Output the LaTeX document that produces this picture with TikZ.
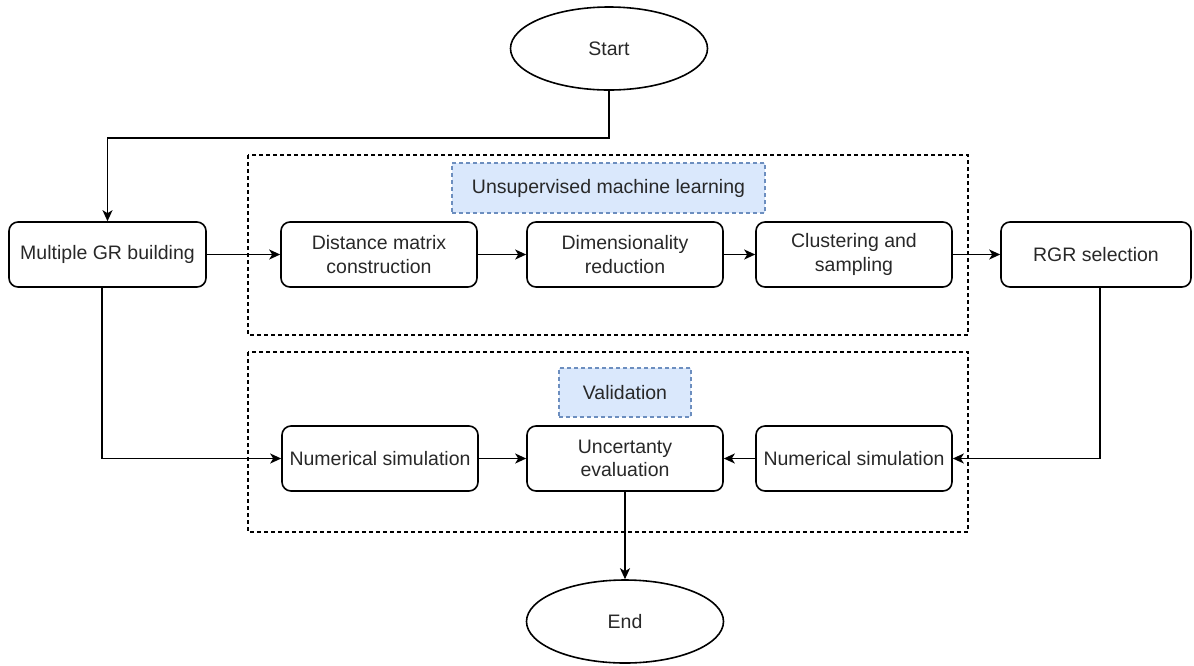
\documentclass[tikz,border=0pt]{standalone}
\usepackage{fontspec}
\setmainfont{Liberation Sans}
\usetikzlibrary{arrows.meta,shapes.geometric}
\definecolor{txt}{RGB}{40,40,40}
\definecolor{tagfill}{RGB}{218,232,252}
\definecolor{tagdraw}{RGB}{108,142,191}
\begin{document}
\begin{tikzpicture}[x=1pt,y=-1pt,
  every node/.style={text=txt, font=\fontsize{19.5}{23.5}\selectfont, align=center, inner sep=0pt},
  proc/.style={draw=black, line width=1.6pt, rounded corners=9pt, minimum width=196pt, minimum height=65pt},
  term/.style={draw=black, line width=1.6pt, ellipse, minimum width=197pt, minimum height=83pt},
  frame/.style={draw=black, line width=1.3pt, dash pattern=on 4pt off 3pt},
  tag/.style={draw=tagdraw, fill=tagfill, line width=1.3pt, dash pattern=on 4pt off 3pt},
  flow/.style={draw=black, line width=1.6pt, -{Stealth[length=11pt,width=10pt,inset=3pt]}}
]
\useasboundingbox (0,0) rectangle (1194,665);

% group frames
\draw[frame] (248,155) rectangle (968,335);
\draw[frame] (248,352) rectangle (968,532);
\node[tag, minimum width=313pt, minimum height=50pt] (tagml) at (608.5,188) {Unsupervised machine learning};
\node[tag, minimum width=132pt, minimum height=49pt] (tagval) at (625,392.5) {Validation};

% steps
\node[term] (start) at (609,48.5) {Start};
\node[proc, minimum width=197pt] (mgr) at (107.5,254.5) {Multiple GR building};
\node[proc] (dist) at (379,254.5) {Distance matrix\\construction};
\node[proc] (dim) at (625,254.5) {Dimensionality\\reduction};
\node[proc] (clu) at (854,254.5) {Clustering and\\sampling};
\node[proc, minimum width=190pt] (rgr) at (1096,254.5) {RGR selection};
\node[proc] (nsl) at (380,458.5) {Numerical simulation};
\node[proc] (unc) at (625,458.5) {Uncertanty\\evaluation};
\node[proc] (nsr) at (854,458.5) {Numerical simulation};
\node[term] (end) at (625,621.5) {End};

% connectors
\coordinate (sbend) at (0,138);
\draw[flow] (start.south) |- (mgr.north |- sbend) -- (mgr.north);
\draw[flow] (mgr) -- (dist);
\draw[flow] (dist) -- (dim);
\draw[flow] (dim) -- (clu);
\draw[flow] (clu) -- (rgr);
\draw[flow] ([xshift=-5.5pt]mgr.south) |- (nsl.west);
\draw[flow] ([xshift=4pt]rgr.south) |- (nsr.east);
\draw[flow] (nsl) -- (unc);
\draw[flow] (nsr) -- (unc);
\draw[flow] (unc.south) -- (end.north);
\end{tikzpicture}
\end{document}
